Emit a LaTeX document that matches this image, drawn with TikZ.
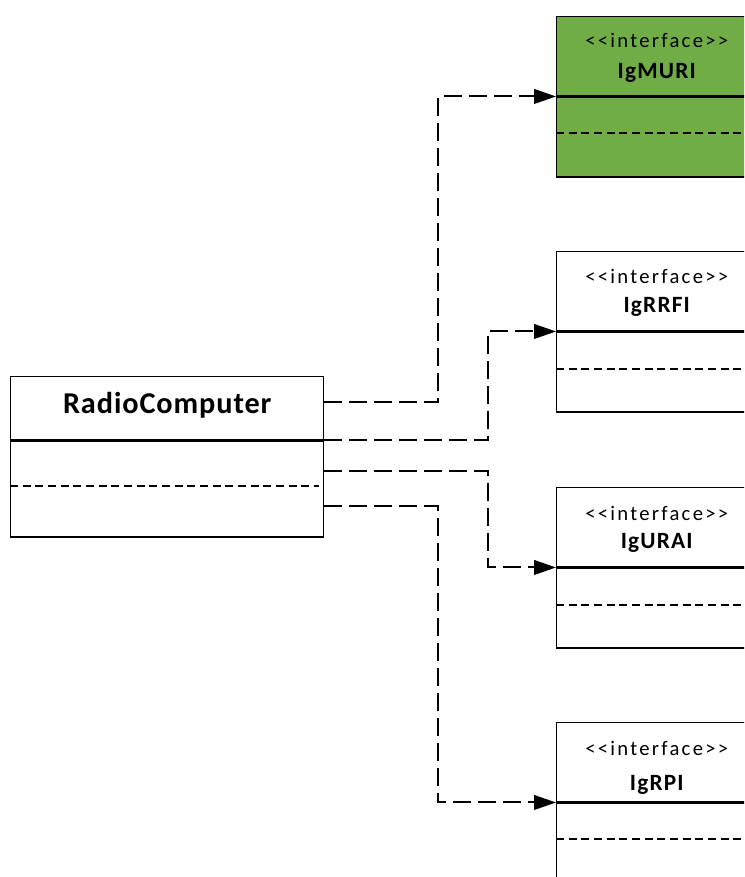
\documentclass[tikz,border=0pt]{standalone}
\usepackage{fontspec}
\setmainfont{Carlito}[Ligatures=TeXOff]
\usetikzlibrary{arrows.meta,calc,positioning}
\definecolor{ifgreen}{RGB}{112,173,71}
\tikzset{
  head/.style={draw,line width=1.1pt,anchor=north west,inner sep=0pt,minimum width=150pt,minimum height=59.25pt},
  body/.style={draw,line width=1.1pt,inner sep=0pt,minimum width=150pt,minimum height=60pt},
  stereo/.style={anchor=base,font=\fontsize{15.5}{18}\selectfont\addfontfeature{LetterSpace=11}},
  ifname/.style={anchor=base,font=\bfseries\fontsize{17.5}{20}\selectfont\addfontfeature{LetterSpace=5}},
  sep/.style={line width=1.5pt,dash pattern=on 6pt off 3.5pt},
  link/.style={line width=1.5pt,dash pattern=on 13.5pt off 5.25pt,-{Triangle[length=16.5pt,width=11pt]}}
}
\begin{document}
\begin{tikzpicture}[x=0.75pt,y=-0.75pt]
    \useasboundingbox (0,0) rectangle (744,877);
    \clip (0,0) rectangle (744,877);
    % radio computer
    \node[head,minimum width=234.75pt,minimum height=47.25pt] (rc) at (10,376) {};
    \node[body,minimum width=234.75pt,minimum height=72pt,below=0pt of rc] (rcbody) {};
    \node[anchor=base,font=\bfseries\fontsize{22.7}{26}\selectfont\addfontfeature{LetterSpace=3}] (rcname) at ($(rc.north)+(0,37)$) {RadioComputer};
    \draw[sep] ($(rcbody.north west)+(0,46)$) -- ($(rcbody.north east)+(-5,46)$);
    % interfaces
    \node[head,fill=ifgreen] (muri) at (556,16) {};
    \node[body,fill=ifgreen,below=0pt of muri] (muribody) {};
    \node[stereo] (muritype) at ($(muri.north)+(0,32)$) {<<interface>>};
    \node[ifname] (muriname) at ($(muri.north)+(0,63)$) {IgMURI};
    \draw[sep] ($(muribody.north west)+(0,37)$) -- ($(muribody.north east)+(0,37)$);

    \node[head] (rrfi) at (556,251) {};
    \node[body,below=0pt of rrfi] (rrfibody) {};
    \node[stereo] (rrfitype) at ($(rrfi.north)+(0,32)$) {<<interface>>};
    \node[ifname] (rrfiname) at ($(rrfi.north)+(0,61)$) {IgRRFI};
    \draw[sep] ($(rrfibody.north west)+(0,38)$) -- ($(rrfibody.north east)+(0,38)$);

    \node[head] (urai) at (556,487) {};
    \node[body,below=0pt of urai] (uraibody) {};
    \node[stereo] (uraitype) at ($(urai.north)+(0,33)$) {<<interface>>};
    \node[ifname] (urainame) at ($(urai.north)+(0,61)$) {IgURAI};
    \draw[sep] ($(uraibody.north west)+(0,38)$) -- ($(uraibody.north east)+(0,38)$);

    \node[head] (rpi) at (556,722) {};
    \node[body,below=0pt of rpi] (rpibody) {};
    \node[stereo] (rpitype) at ($(rpi.north)+(0,33)$) {<<interface>>};
    \node[ifname] (rpiname) at ($(rpi.north)+(0,68)$) {IgRPI};
    \draw[sep] ($(rpibody.north west)+(0,37)$) -- ($(rpibody.north east)+(0,37)$);
    % links
    \draw[link] ($(rc.north east)+(0,26)$) -| ($(muri.south west)+(-118,0)$) -- (muri.south west);
    \draw[link] (rc.south east) -| ($(rrfi.south west)+(-68,0)$) -- (rrfi.south west);
    \draw[link] ($(rcbody.north east)+(0,31)$) -| ($(urai.south west)+(-68,0)$) -- (urai.south west);
    \draw[link] ($(rcbody.north east)+(0,66)$) -| ($(rpi.south west)+(-118,0)$) -- (rpi.south west);
\end{tikzpicture}
\end{document}
